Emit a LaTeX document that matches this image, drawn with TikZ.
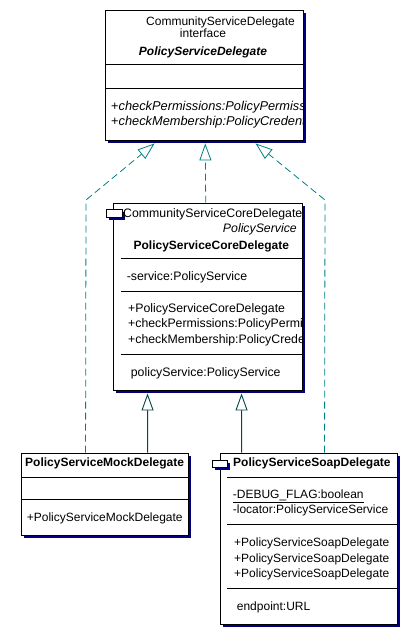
\documentclass[tikz,border=0pt]{standalone}
\usepackage{fontspec}
\setmainfont{Liberation Sans}
\usetikzlibrary{arrows.meta,%
                shadows,%
                calc}
\definecolor{umlnavy}{RGB}{0,0,128}
\definecolor{umlteal}{RGB}{0,128,128}
\definecolor{umldark}{RGB}{0,72,72}

\begin{document}
\begin{tikzpicture}[x=1bp,y=-1bp,font=\fontsize{12bp}{14bp}\selectfont]
		\tikzstyle{ClassBox}=[draw,line width=0.9bp,fill=white,inner sep=0pt,
			drop shadow={fill=umlnavy,opacity=1,shadow xshift=3bp,shadow yshift=-3bp}]
		\tikzstyle{Member}=[anchor=base west,inner sep=0pt]
		\tikzstyle{Operation}=[Member,font=\fontsize{12.8bp}{14bp}\selectfont]
		\tikzstyle{Title}=[Member,font=\fontsize{12bp}{14bp}\selectfont\bfseries]
		\tikzstyle{Divider}=[line width=0.9bp]
		\tikzstyle{Realize}=[umlteal,line width=0.8bp,dash pattern=on 7bp off 4bp,
			-{Triangle[open,length=17bp,width=12bp,fill=white]}]
		\tikzstyle{Extend}=[umldark,line width=0.9bp,
			-{Triangle[open,length=17bp,width=12bp,fill=white]}]
		\useasboundingbox (0,0) rectangle (410,628);
		% class boxes
		\node[ClassBox,minimum width=198bp,minimum height=130bp] (iface) at (204,75) {};
		\node[ClassBox,minimum width=189bp,minimum height=187bp] (core) at (207.5,296.5) {};
		\node[ClassBox,minimum width=16bp,minimum height=8bp] (coreicon) at (114,213) {};
		\node[ClassBox,minimum width=167bp,minimum height=82bp] (mock) at (104.5,494) {};
		\node[ClassBox,minimum width=177bp,minimum height=171bp] (soap) at (308.5,538.5) {};
		\node[ClassBox,minimum width=15bp,minimum height=7bp] (soapicon) at (219.5,463.5) {};
		% compartments
		\draw[Divider] (105,64) -- (303,64);
		\draw[Divider] (105,88) -- (303,88);
		\draw[Divider] (121,258) -- (302,258);
		\draw[Divider] (121,291) -- (302,291);
		\draw[Divider] (121,354) -- (302,354);
		\draw[Divider] (21,477) -- (188,477);
		\draw[Divider] (21,499) -- (188,499);
		\draw[Divider] (227,477) -- (397,477);
		\draw[Divider] (227,524) -- (397,524);
		\draw[Divider] (227,588) -- (397,588);
		% texts
		\begin{scope}
			\clip (105,10) rectangle (302,140);
			\node[Member] (ifacestereo) at (146,26) {CommunityServiceDelegate};
			\node[anchor=base,inner sep=0pt] (ifacekind) at (203,38) {interface};
			\node[anchor=base,inner sep=0pt,font=\fontsize{12bp}{14bp}\selectfont\bfseries\itshape]
				(ifacename) at (203,56) {PolicyServiceDelegate};
			\node[Operation] (ifaceop1) at (111,111) {+\textit{checkPermissions:PolicyPermissions}};
			\node[Operation] (ifaceop2) at (111,126) {+\textit{checkMembership:PolicyCredentials}};
		\end{scope}
		\begin{scope}[font=\fontsize{12.3bp}{14bp}\selectfont]
			\clip (113,203) rectangle (301.5,390);
			\node[Member] (corestereo) at (123,217.3) {CommunityServiceCoreDelegate};
			\node[anchor=base east,inner sep=0pt,font=\fontsize{12.3bp}{14bp}\selectfont\itshape]
				(corekind) at (297,232.7) {PolicyService};
			\node[anchor=base,inner sep=0pt,font=\fontsize{12bp}{14bp}\selectfont\bfseries]
				(corename) at (211.3,249.3) {PolicyServiceCoreDelegate};
			\node[Member] (coreattr) at (126.7,280) {-service:PolicyService};
			\node[Member] (coreop1) at (128,312) {+PolicyServiceCoreDelegate};
			\node[Member] (coreop2) at (128,327.7) {+checkPermissions:PolicyPermissions};
			\node[Member] (coreop3) at (128,343.3) {+checkMembership:PolicyCredentials};
			\node[Member] (coreprop) at (130.7,376) {policyService:PolicyService};
		\end{scope}
		\node[Title] (mockname) at (25,466.7) {PolicyServiceMockDelegate};
		\node[Member] (mockop) at (26.7,521) {+PolicyServiceMockDelegate};
		\node[Title] (soapname) at (233,466.7) {PolicyServiceSoapDelegate};
		\node[Member] (soapattr1) at (232.7,498.3) {\underline{-DEBUG\_FLAG:boolean}};
		\node[Member] (soapattr2) at (232.7,513.7) {-locator:PolicyServiceService};
		\node[Member] (soapop1) at (234,546) {+PolicyServiceSoapDelegate};
		\node[Member] (soapop2) at (234,562) {+PolicyServiceSoapDelegate};
		\node[Member] (soapop3) at (234,577.7) {+PolicyServiceSoapDelegate};
		\node[Member] (soapprop) at (236.7,610) {endpoint:URL};
		% realizations and generalizations
		\draw[Realize] ($(mock.north west)+(65,0)$) -- (86,200) -- ($(iface.south west)+(50,3)$);
		\draw[Realize] (core.north -| 205.7,0) -- ($(iface.south west)+(100.7,3)$);
		\draw[Realize] ($(soap.north west)+(105,0)$) -- (325,200) -- ($(iface.south west)+(151,3)$);
		\draw[Extend] ($(mock.north west)+(127,0)$) -- ($(core.south west)+(35,3)$);
		\draw[Extend] ($(soap.north west)+(22,0)$) -- ($(core.south west)+(129,3)$);
	\end{tikzpicture}
\end{document}
